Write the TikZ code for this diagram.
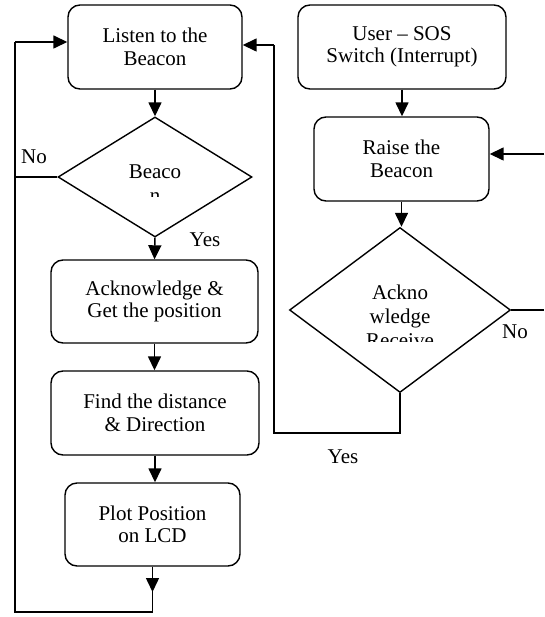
\documentclass[tikz,border=0pt]{standalone}
\usepackage{fontspec}
\setmainfont{Liberation Serif}
\usetikzlibrary{shapes.geometric,arrows.meta}
\tikzset{
  every node/.style={font=\fontsize{21}{22.5}\selectfont},
  box/.style={draw, rectangle, rounded corners=12pt, line width=1.4pt, align=center, inner sep=0pt},
  dia/.style={draw, diamond, line width=1.4pt, inner sep=0pt},
  dtext/.style={align=center, font=\fontsize{21}{24}\selectfont},
  conn/.style={line width=1.5pt},
  arr/.style={line width=1.5pt, -{Triangle[length=14pt,width=13pt]}},
  lbl/.style={inner sep=0pt}
}
\begin{document}
\begin{tikzpicture}[x=1pt,y=-1pt]
\useasboundingbox (0,0) rectangle (544,617);
% boxes
\node[box, minimum width=174pt, minimum height=84pt] (b1) at (155,47) {Listen to the\\Beacon};
\node[box, minimum width=208pt, minimum height=84pt] (b5) at (402,47) {User -- SOS\\Switch (Interrupt)};
\node[box, minimum width=175pt, minimum height=84pt] (b6) at (401.5,159) {Raise the\\Beacon};
\node[box, minimum width=207pt, minimum height=83pt] (b2) at (154.5,301.5) {Acknowledge \&\\Get the position};
\node[box, minimum width=208pt, minimum height=84pt] (b3) at (155,413) {Find the distance\\\& Direction};
\node[box, minimum width=175pt, minimum height=83pt] (b4) at (152.5,524.5) {Plot Position\\on LCD};
% diamonds
\node[dia, minimum width=194pt, minimum height=120pt] (d1) at (155,177) {};
\node[dia, minimum width=221pt, minimum height=165pt] (d2) at (400,310) {};
% clipped diamond texts
\begin{scope}
\clip (100,150) rectangle (210,197);
\node[dtext, anchor=base] (t1) at (155,202.3) {Beaco\\n};
\end{scope}
\begin{scope}
\clip (330,270) rectangle (470,341);
\node[dtext, anchor=base] (t2) at (400,347.3) {Ackno\\wledge\\Receive};
\end{scope}
% helper coordinates
\coordinate (cTL) at (15,42);
\coordinate (cBL) at (15,612);
\coordinate (cTip) at (153,592);
\coordinate (cYes) at (274,433);
\coordinate (cTR) at (274,45);
\coordinate (cNo) at (544,310);
\coordinate (cIn) at (544,154);
% main flow
\draw[arr] (b1.south) -- (d1.north);
\draw[arr] (d1.south) -- (b2.north);
\draw[arr] (b2.south) -- (b2.south |- b3.north);
\draw[arr] (b3.south) -- (b3.south |- b4.north);
\draw[arr] (b5.south) -- (b5.south |- b6.north);
\draw[arr] (b6.south) -- (b6.south |- d2.north);
% left loop
\draw[arr] (b4.south) -- (b4.south |- cTip);
\draw[conn] (b4.south) -- (b4.south |- cBL) -- (cBL) -- (cTL);
\draw[arr] (cTL) -- (cTL -| b1.west);
\draw[conn] (d1.west) -- (d1.west -| cTL);
% yes loop
\draw[conn] (d2.south) -- (d2.south |- cYes) -- (cYes) -- (cTR);
\draw[arr] (cTR) -- (cTR -| b1.east);
% no branch of d2
\draw[conn] (d2.east) -- (cNo);
\draw[arr] (cIn) -- (cIn -| b6.east);
% labels
\node[lbl] (l1) at (34,157) {No};
\node[lbl] (l2) at (205,240) {Yes};
\node[lbl] (l3) at (515,332) {No};
\node[lbl] (l4) at (343,457) {Yes};
\end{tikzpicture}
\end{document}
